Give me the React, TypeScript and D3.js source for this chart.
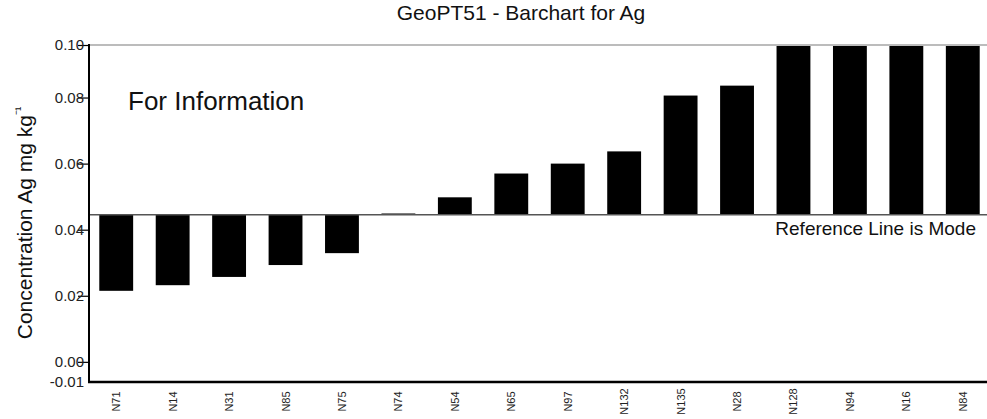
import * as d3 from "d3";
import { useRef, useEffect } from "react";

const labs = ["N71", "N14", "N31", "N85", "N75", "N74", "N54", "N65", "N97", "N132", "N135", "N28", "N128", "N94", "N16", "N84"];
const vals = [0.0215, 0.0232, 0.0257, 0.0293, 0.0329, 0.0449, 0.0498, 0.057, 0.06, 0.0637, 0.0806, 0.0836, 0.112, 0.125, 0.148, 0.21];
const modeVal = 0.0445;
const yTicks = [-0.0061, 0, 0.02, 0.04, 0.06, 0.08, 0.0959];
const yMin = -0.0061;
const yMax = 0.0959;

export default function App() {
  const svgRef = useRef(null);

  useEffect(() => {
    const width = 987;
    const height = 419;
    const left = 89;
    const top = 45;
    const bottom = 382;
    const font = "'Liberation Sans', Arial, sans-serif";

    const svg = d3.select(svgRef.current).attr("width", width).attr("height", height);
    svg.selectAll("*").remove();

    const x = d3.scaleBand().domain(labs).range([88, 991]).paddingInner(0.4).paddingOuter(0.2);
    const y = d3.scaleLinear().domain([yMin, yMax]).range([bottom, top]);

    svg.append("rect").attr("width", width).attr("height", height).attr("fill", "#fff");

    svg.append("clipPath").attr("id", "plotclip")
      .append("rect").attr("x", left).attr("y", top + 1).attr("width", width - left).attr("height", bottom - top - 1);

    // bars from the mode line
    svg.append("g").attr("clip-path", "url(#plotclip)")
      .selectAll("rect")
      .data(vals)
      .enter()
      .append("rect")
      .attr("x", (_, i) => x(labs[i])!)
      .attr("width", x.bandwidth())
      .attr("y", (d) => Math.min(y(d), y(modeVal)))
      .attr("height", (d) => Math.abs(y(d) - y(modeVal)))
      .attr("fill", "#000");

    // top frame and reference line
    svg.append("line").attr("x1", left).attr("x2", width).attr("y1", top).attr("y2", top)
      .attr("stroke", "#7a7a7a").attr("stroke-width", 1.2);
    svg.append("line").attr("x1", left).attr("x2", width).attr("y1", y(modeVal)).attr("y2", y(modeVal))
      .attr("stroke", "#555").attr("stroke-width", 1.5);

    // y axis
    const yAxis = d3.axisLeft(y)
      .tickValues(yTicks)
      .tickSize(11)
      .tickPadding(-6)
      .tickFormat((d) => (d as number).toFixed(2));
    const ga = svg.append("g").attr("transform", `translate(${left},0)`).call(yAxis);
    ga.select(".domain").remove();
    ga.selectAll(".tick line").attr("stroke", "#000").attr("stroke-width", 1.2)
      .attr("display", (d: any) => (d === yMin ? "none" : null));
    ga.selectAll(".tick text").attr("font-family", font).attr("font-size", 15).attr("fill", "#222");

    svg.append("line").attr("x1", left).attr("x2", left).attr("y1", top - 1).attr("y2", bottom + 1)
      .attr("stroke", "#000").attr("stroke-width", 2);
    svg.append("line").attr("x1", left - 1).attr("x2", width).attr("y1", bottom).attr("y2", bottom)
      .attr("stroke", "#000").attr("stroke-width", 2.5);

    // x labels
    svg.append("g").selectAll("text")
      .data(labs)
      .enter()
      .append("text")
      .attr("transform", (d) => `translate(${x(d)! + x.bandwidth() / 2 + 4},401.5) rotate(-90)`)
      .attr("text-anchor", "middle")
      .attr("font-family", font)
      .attr("font-size", 11)
      .attr("fill", "#222")
      .text((d) => d);

    // titles and notes
    svg.append("text").attr("x", 521).attr("y", 20).attr("text-anchor", "middle")
      .attr("font-family", font).attr("font-size", 21).attr("fill", "#111")
      .text("GeoPT51 - Barchart for Ag");
    svg.append("text").attr("x", 128).attr("y", 110)
      .attr("font-family", font).attr("font-size", 26).attr("fill", "#111")
      .text("For Information");
    svg.append("text").attr("x", 976).attr("y", 235).attr("text-anchor", "end")
      .attr("font-family", font).attr("font-size", 19).attr("fill", "#111")
      .text("Reference Line is Mode");
    const yl = svg.append("text").attr("transform", "translate(32,223) rotate(-90)").attr("text-anchor", "middle")
      .attr("font-family", font).attr("font-size", 21).attr("fill", "#111");
    yl.append("tspan").text("Concentration Ag mg kg");
    yl.append("tspan").attr("font-size", 13).attr("dy", -8).text("⁻¹");
  }, []);

  return (
    <svg ref={svgRef} style={{ position: "absolute", left: 0, top: 0 }} />
  );
}
